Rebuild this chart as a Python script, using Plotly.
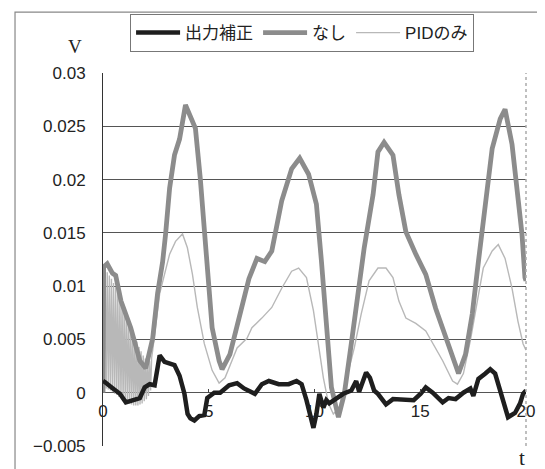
import plotly.graph_objects as go

# ---- data ----
t_hosei = [0.0, 0.09, 0.47, 0.8, 1.08, 1.41, 1.74, 1.97, 2.21, 2.44, 2.68, 2.91, 3.15, 3.38, 3.62,
           3.85, 4.0, 4.13, 4.32, 4.55, 4.79, 4.93, 5.26, 5.54, 5.96, 6.34, 6.67, 6.9, 7.18, 7.51,
           7.84, 8.31, 8.78, 9.15, 9.39, 9.62, 9.77, 9.95, 10.09, 10.23, 10.42, 10.56, 10.7, 11.03,
           11.36, 11.74, 11.97, 12.11, 12.44, 12.62, 12.82, 13.0, 13.38, 13.71, 14.23, 14.69, 15.02,
           15.26, 15.59, 16.06, 16.34, 16.67, 17.04, 17.37, 17.51, 17.75, 18.08, 18.31, 18.54, 18.87,
           19.15, 19.48, 19.72, 19.86, 20.0]
v_hosei = [0.0011, 0.0010, 0.0004, -0.0001, -0.0009, -0.0007, -0.0005, 0.0005, 0.0008, 0.0007,
           0.0035, 0.0029, 0.0027, 0.0026, 0.0016, -0.0001, -0.0020, -0.0024, -0.0026, -0.0022,
           -0.0021, -0.0005, 0.0, 0.0, 0.0007, 0.0009, 0.0004, 0.0002, -0.0001, 0.0008,
           0.0011, 0.0008, 0.0008, 0.0011, 0.0008, -0.0007, -0.0020, -0.0033, -0.0020, -0.0001,
           -0.0014, -0.0007, -0.0010, -0.0005, -0.0001, 0.0002, 0.0011, 0.0001, 0.0019, 0.0014,
           0.0002, -0.0001, -0.0011, -0.0006, -0.0006, -0.0007, -0.0001, 0.0005, 0.0, -0.0009,
           -0.0005, -0.0006, 0.0, 0.0004, -0.0003, 0.0013, 0.0018, 0.0022, 0.0018, -0.0005,
           -0.0023, -0.0019, -0.0010, -0.0001, 0.0002]

t_nashi = [0.0, 0.03, 0.2, 0.45, 0.6, 0.85, 1.31, 1.74, 2.02, 2.35, 2.58, 2.82, 2.96, 3.15, 3.38,
           3.62, 3.9, 4.37, 4.6, 4.79, 4.93, 5.16, 5.49, 5.63, 6.0, 6.48, 6.9, 7.28, 7.65, 7.98,
           8.45, 8.92, 9.3, 9.72, 10.09, 10.33, 10.56, 10.8, 11.13, 11.41, 11.74, 12.07, 12.35,
           12.77, 13.0, 13.29, 13.71, 13.99, 14.32, 14.79, 15.26, 15.73, 16.2, 16.57, 16.81, 17.14,
           17.46, 17.75, 18.08, 18.4, 18.78, 19.01, 19.34, 19.62, 19.81, 19.95, 20.0]
v_nashi = [0.0, 0.0118, 0.0121, 0.0112, 0.0110, 0.0086, 0.0061, 0.0030, 0.0023, 0.0051, 0.0093,
           0.0123, 0.0149, 0.0192, 0.0223, 0.0238, 0.0270, 0.0248, 0.0201, 0.0154, 0.0107, 0.0061,
           0.0030, 0.0022, 0.0036, 0.0074, 0.0107, 0.0126, 0.0123, 0.0133, 0.0180, 0.0210, 0.0220,
           0.0205, 0.0177, 0.0123, 0.0061, 0.0005, -0.0023, -0.0001, 0.0046, 0.0093, 0.0136,
           0.0186, 0.0226, 0.0235, 0.0223, 0.0186, 0.0151, 0.0130, 0.0111, 0.0079, 0.0051, 0.0030,
           0.0018, 0.0036, 0.0074, 0.0123, 0.0180, 0.0229, 0.0257, 0.0266, 0.0233, 0.0186, 0.0149,
           0.0108, 0.0105]

t_pid = [0.0, 0.05, 0.1, 0.15, 0.2, 0.25, 0.3, 0.35, 0.4, 0.45, 0.5, 0.55, 0.6, 0.65, 0.7, 0.75,
         0.8, 0.85, 0.9, 0.95, 1.0, 1.05, 1.1, 1.15, 1.2, 1.25, 1.3, 1.35, 1.4, 1.45, 1.5, 1.55,
         1.6, 1.65, 1.7, 1.75, 1.8, 1.85, 1.9, 1.95, 2.0, 2.05, 2.1, 2.15, 2.2, 2.25, 2.3,
         2.35, 2.68, 2.9, 3.15, 3.43, 3.76, 3.99, 4.23, 4.46, 4.79, 5.16, 5.49, 5.77, 6.34, 6.81,
         7.04, 7.51, 7.98, 8.45, 8.92, 9.25, 9.62, 9.95, 10.19, 10.42, 10.66, 10.89, 11.17, 11.5,
         11.88, 12.21, 12.58, 13.0, 13.38, 13.71, 13.99, 14.32, 14.79, 15.26, 15.59, 16.06, 16.53,
         16.76, 17.04, 17.37, 17.7, 17.98, 18.4, 18.69, 19.01, 19.34, 19.62, 19.86, 20.0]
v_pid = [0.0118, 0.0005, 0.0116, 0.0004, 0.0113, 0.0003, 0.0110, 0.0002, 0.0107, 0.0001, 0.0103,
         -0.0001, 0.0099, -0.0002, 0.0094, -0.0004, 0.0089, -0.0005, 0.0084, -0.0007, 0.0079,
         -0.0008, 0.0074, -0.0009, 0.0068, -0.0010, 0.0063, -0.0011, 0.0058, -0.0012, 0.0052,
         -0.0012, 0.0048, -0.0012, 0.0043, -0.0011, 0.0039, -0.0010, 0.0035, -0.0008, 0.0032,
         -0.0006, 0.0030, -0.0003, 0.0030, 0.0002, 0.0033,
         0.0040, 0.0093, 0.0110, 0.0130, 0.0142, 0.0149, 0.0136, 0.0111, 0.0080, 0.0046, 0.0021,
         0.0009, 0.0014, 0.0042, 0.0051, 0.0061, 0.0070, 0.0080, 0.0098, 0.0114, 0.0117, 0.0108,
         0.0077, 0.0046, 0.0014, -0.0010, -0.0020, -0.0014, 0.0011, 0.0042, 0.0074, 0.0105,
         0.0117, 0.0117, 0.0108, 0.0086, 0.0070, 0.0065, 0.0058, 0.0046, 0.0030, 0.0011, 0.0008,
         0.0018, 0.0049, 0.0086, 0.0117, 0.0133, 0.0139, 0.0126, 0.0098, 0.0067, 0.0046, 0.0040]

series_names = ["出力補正", "なし", "PIDのみ"]
x_ticks = [0, 5, 10, 15, 20]
x_tick_labels = ["0", "5", "10", "15", "20"]

FONT = "Liberation Sans, Arial, Noto Sans CJK JP"

fig = go.Figure()
fig.add_trace(go.Scatter(x=t_pid, y=v_pid, mode="lines", name=series_names[2], xaxis="x2",
                         line=dict(color="#b8b8b8", width=1.4)))
fig.add_trace(go.Scatter(x=t_nashi, y=v_nashi, mode="lines", name=series_names[1], xaxis="x2",
                         line=dict(color="#8c8c8c", width=4.8)))
fig.add_trace(go.Scatter(x=t_hosei, y=v_hosei, mode="lines", name=series_names[0], xaxis="x2",
                         line=dict(color="#1e1e1e", width=4.5)))

fig.update_layout(
    width=545, height=469,
    margin=dict(l=95, r=27, t=65, b=31, autoexpand=False),
    paper_bgcolor="white", plot_bgcolor="white",
    font=dict(family=FONT, size=16, color="#222222"),
    showlegend=True,
    legend=dict(orientation="h", traceorder="reversed", x=0.064, xanchor="left",
                y=1.158, yanchor="top", bordercolor="#777777", borderwidth=1,
                font=dict(family=FONT, size=17, color="#222222"), itemwidth=44,
                tracegroupgap=0),
    xaxis=dict(range=[0, 20], showticklabels=False, ticks="", showgrid=False,
               zeroline=False, showline=True, linecolor="#333333", linewidth=1, mirror=True),
    xaxis2=dict(range=[0, 20], overlaying="x", anchor="free", position=1/7,
                tickvals=x_ticks, ticktext=x_tick_labels, ticks="inside", ticklen=4,
                tickcolor="#444444", showgrid=False, zeroline=False, showline=False,
                ticklabelstandoff=6, tickfont=dict(family=FONT, size=17, color="#222222")),
    yaxis=dict(range=[-0.005, 0.03], dtick=0.005, tick0=0, showgrid=True, gridcolor="#555555",
               gridwidth=1, zeroline=True, zerolinecolor="#555555", zerolinewidth=1,
               showline=True, linecolor="#333333", linewidth=1, ticks="",
               ticklabelstandoff=13, tickfont=dict(family=FONT, size=17, color="#222222")),
    shapes=[
        dict(type="line", xref="paper", yref="paper", x0=1, x1=1, y0=0, y1=1,
             line=dict(color="#aaaaaa", width=1.5, dash="dot")),
        dict(type="rect", xref="paper", yref="paper", x0=-0.208, x1=1.059,
             y0=-0.072, y1=1.163, line=dict(color="#888888", width=1.2)),
    ],
    annotations=[
        dict(text="V", xref="paper", yref="paper", x=-0.066, y=1.072, xanchor="center",
             yanchor="middle", showarrow=False,
             font=dict(family="Liberation Serif, DejaVu Serif", size=19, color="#222222")),
        dict(text="t", xref="paper", yref="paper", x=0.99, y=-0.033, xanchor="center",
             yanchor="middle", showarrow=False,
             font=dict(family="Liberation Serif, DejaVu Serif", size=21, color="#222222")),
    ],
)

fig.write_html("out.html")
